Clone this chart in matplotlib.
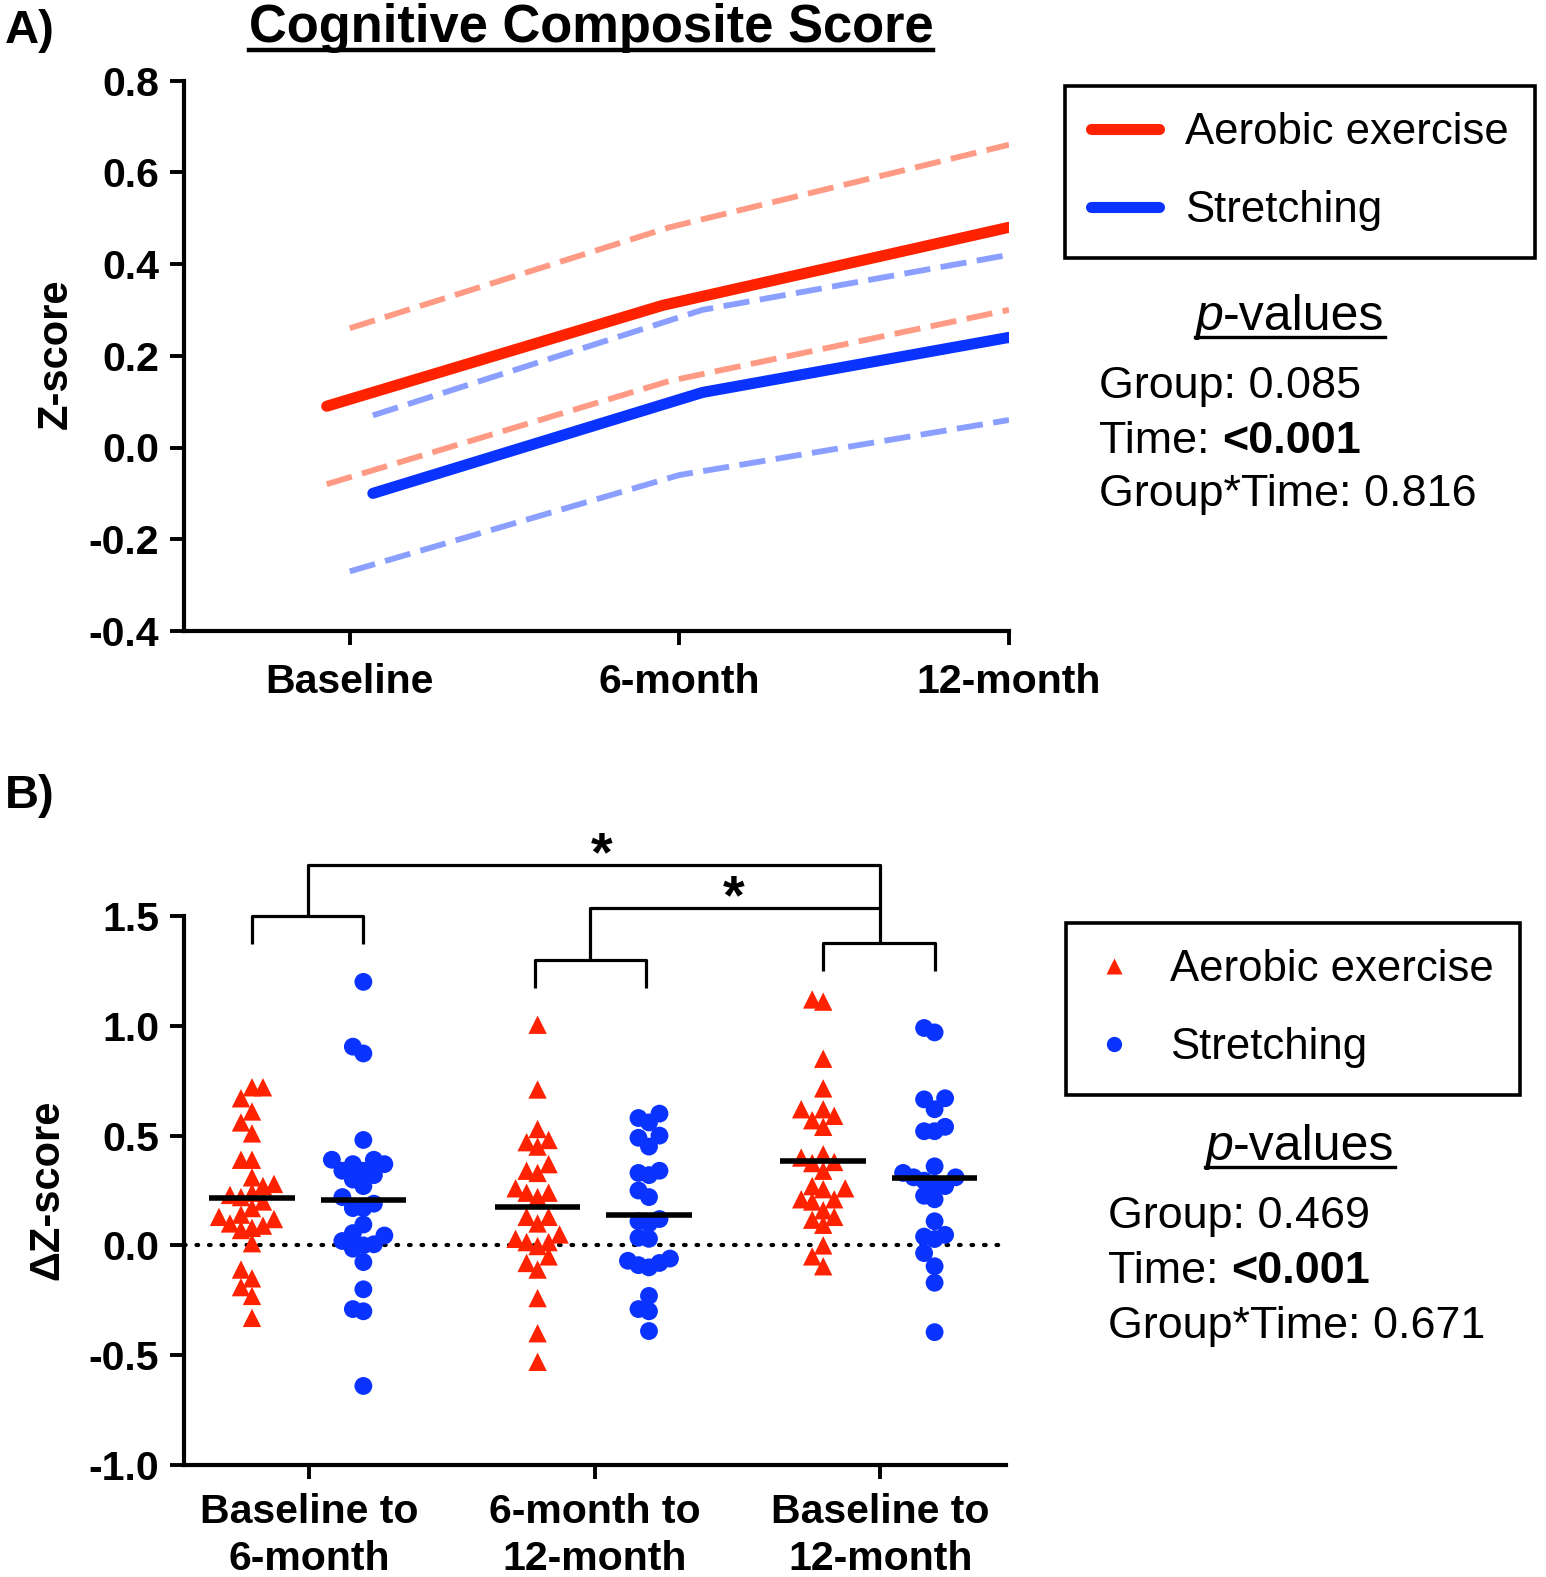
import numpy as np
import matplotlib
matplotlib.use("Agg")
import matplotlib.pyplot as plt
from matplotlib.lines import Line2D

plt.rcParams['font.family'] = ['Liberation Sans', 'DejaVu Sans']
plt.rcParams['axes.unicode_minus'] = False

RED = '#ff2200'
BLUE = '#0a33ff'
RED_CI = '#ff9b85'
BLUE_CI = '#8a9fff'

W, H = 1546, 1577

# ---- Panel A data: group means and 95% CI over time
timepoints = ['Baseline', '6-month', '12-month']
aer_mean = [0.09, 0.31, 0.48]
aer_lo = [-0.08, 0.145, 0.30]
aer_hi = [0.26, 0.48, 0.66]
str_mean = [-0.10, 0.12, 0.24]
str_lo = [-0.27, -0.06, 0.06]
str_hi = [0.07, 0.30, 0.42]

# ---- Panel B data: change scores per participant
intervals = ['Baseline to\n6-month', '6-month to\n12-month', 'Baseline to\n12-month']
aer_d1 = [0.72, 0.72, 0.67, 0.61, 0.56, 0.51, 0.39, 0.39, 0.31, 0.27, 0.28, 0.24,
          0.23, 0.22, 0.17, 0.20, 0.12, 0.08, 0.10, 0.09, 0.14, 0.13, 0.07, 0.01,
          -0.11, -0.15, -0.19, -0.23, -0.33]
str_d1 = [1.20, 0.905, 0.874, 0.48, 0.39, 0.39, 0.37, 0.37, 0.34, 0.34, 0.32, 0.30,
          0.27, 0.22, 0.19, 0.17, 0.17, 0.095, 0.056, 0.02, 0.045, 0.005, 0.0,
          -0.015, -0.076, -0.20, -0.29, -0.30, -0.64]
aer_d2 = [1.005, 0.71, 0.53, 0.45, 0.47, 0.48, 0.37, 0.33, 0.34, 0.24, 0.22, 0.26,
          0.24, 0.13, 0.10, 0.13, 0.05, 0.015, 0.015, -0.003, 0.03, -0.05, -0.08,
          -0.11, -0.24, -0.40, -0.53]
str_d2 = [0.58, 0.60, 0.56, 0.49, 0.50, 0.45, 0.32, 0.34, 0.33, 0.25, 0.22, 0.12,
          0.11, 0.10, 0.03, 0.035, -0.08, -0.09, -0.07, -0.06, -0.10, -0.23, -0.30,
          -0.29, -0.39]
aer_d3 = [1.11, 1.12, 0.85, 0.715, 0.59, 0.62, 0.62, 0.57, 0.54, 0.415, 0.40, 0.38,
          0.375, 0.34, 0.26, 0.256, 0.27, 0.21, 0.20, 0.21, 0.16, 0.13, 0.094,
          0.117, 0.0, -0.05, -0.095]
str_d3 = [0.99, 0.97, 0.67, 0.665, 0.62, 0.54, 0.52, 0.52, 0.36, 0.33, 0.28, 0.27,
          0.31, 0.295, 0.31, 0.226, 0.21, 0.11, 0.04, 0.048, 0.029, -0.035, -0.095,
          -0.17, -0.395]

aer_changes = [aer_d1, aer_d2, aer_d3]
str_changes = [str_d1, str_d2, str_d3]

fig = plt.figure(figsize=(W / 100, H / 100), dpi=100)


def fx(x):
    return x / W


def fy(y):
    return 1 - y / H


def style_axes(ax, pad):
    for s in ['top', 'right']:
        ax.spines[s].set_visible(False)
    for s in ['left', 'bottom']:
        ax.spines[s].set_linewidth(3.0)
    ax.tick_params(width=2.8, length=10, labelsize=29.5, pad=8)
    ax.tick_params(axis='x', pad=pad)
    for lab in ax.get_xticklabels() + ax.get_yticklabels():
        lab.set_fontweight('bold')


# ================= Panel A =================
axA = fig.add_axes([fx(184), fy(631), fx(1009 - 184), (631 - 80.5) / H])
t = np.arange(len(timepoints))
dash = (0, (4.5, 1.8))
# small horizontal dodge, like the original
axA.plot(t + [0.0, -0.03, 0], aer_hi, color=RED_CI, lw=4.2, ls=dash, zorder=2)
axA.plot(t + [-0.07, -0.03, 0], aer_lo, color=RED_CI, lw=4.2, ls=dash, zorder=2)
axA.plot(t + [0.07, 0.07, 0], str_hi, color=BLUE_CI, lw=4.2, ls=dash, zorder=2)
axA.plot(t + [0.0, 0.0, 0], str_lo, color=BLUE_CI, lw=4.2, ls=dash, zorder=2)
axA.plot(t + [-0.07, -0.05, 0], aer_mean, color=RED, lw=8, solid_capstyle='round', zorder=3)
axA.plot(t + [0.07, 0.07, 0], str_mean, color=BLUE, lw=8, solid_capstyle='round', zorder=3)
axA.set_xlim(-0.503, 2.0)
axA.set_ylim(-0.4, 0.8)
axA.set_xticks(t)
axA.set_xticklabels(timepoints)
axA.set_yticks(np.arange(-0.4, 0.81, 0.2))
axA.set_yticklabels([f'{v:.1f}' for v in np.arange(-0.4, 0.81, 0.2)])
style_axes(axA, 13)

# ================= Panel B =================
axB = fig.add_axes([fx(184), fy(1465), fx(1006 - 184), (1465 - 916) / H])
axB.set_xlim(-0.438, 2.44)
axB.set_ylim(-1.0, 1.5)
xs_px = (1006 - 184) / (2.44 + 0.438)
ys_px = (1465 - 916) / 2.5


def swarm(vals, col_px, gap_px):
    vals = np.asarray(vals)
    order = np.argsort(vals)
    cols = {}
    off = np.zeros(len(vals))
    for i in order:
        v = vals[i] * ys_px
        for k in (0, -1, 1, -2, 2, -3, 3, -4, 4, -5, 5, -6, 6):
            if all(abs(v - u) >= gap_px for u in cols.get(k, [])):
                cols.setdefault(k, []).append(v)
                off[i] = k * col_px / xs_px
                break
    return off


axB.axhline(0, color='black', lw=3, ls=(0, (0.4, 2.6)), dash_capstyle='round', zorder=1)
for i in range(len(intervals)):
    a = np.array(aer_changes[i])
    s = np.array(str_changes[i])
    axB.scatter(i - 0.2 + swarm(a, 11, 14), a, marker='^', s=175, color=RED,
                edgecolors='none', zorder=3, clip_on=False)
    axB.scatter(i + 0.19 + swarm(s, 10.5, 15), s, marker='o', s=165, color=BLUE,
                edgecolors='none', zorder=3, clip_on=False)
    axB.hlines(a.mean(), i - 0.2 - 0.15, i - 0.2 + 0.15, color='black', lw=4, zorder=4)
    axB.hlines(s.mean(), i + 0.19 - 0.15, i + 0.19 + 0.15, color='black', lw=4, zorder=4)

axB.set_xticks(range(len(intervals)))
axB.set_xticklabels(intervals, linespacing=1.3)
yt = np.arange(-1.0, 1.51, 0.5)
axB.set_yticks(yt)
axB.set_yticklabels([f'{v:.1f}' for v in yt])
style_axes(axB, 10)

# significance brackets
bk = dict(color='black', lw=2.3, clip_on=False, solid_capstyle='butt')
pair_top = [1.5, 1.30, 1.377]
pair_x = [(-0.2, 0.19), (0.79, 1.18), (1.80, 2.19)]
mids = []
for (x1, x2), top in zip(pair_x, pair_top):
    axB.plot([x1, x1, x2, x2], [top - 0.128, top, top, top - 0.128], **bk)
    mids.append((x1 + x2) / 2)
axB.plot([mids[0], mids[0], 2, 2], [pair_top[0], 1.732, 1.732, pair_top[2]], **bk)
axB.plot([mids[1], mids[1], 2], [pair_top[1], 1.536, 1.536], **bk)
axB.text(1.026, 1.77, '*', fontsize=40, fontweight='bold', ha='center', va='center')
axB.text(1.485, 1.575, '*', fontsize=40, fontweight='bold', ha='center', va='center')

# ================= labels and text =================
renderer = fig.canvas.get_renderer()


def text_width(tx):
    return tx.get_window_extent(renderer).width


def underline(tx, drop, lw=3):
    bb = tx.get_window_extent(renderer)
    x0, x1 = bb.x0 / W, bb.x1 / W
    y = tx.get_position()[1] - drop / H
    fig.add_artist(Line2D([x0, x1], [y, y], color='black', lw=lw))


fig.text(fx(5), fy(43), 'A)', fontsize=34, fontweight='bold', va='baseline')
fig.text(fx(5), fy(808), 'B)', fontsize=34, fontweight='bold', va='baseline')
title = fig.text(fx(591), fy(42), 'Cognitive Composite Score', fontsize=37.8,
                 fontweight='bold', ha='center', va='baseline')
underline(title, 8, lw=3.2)

fig.text(fx(56), fy(354), 'Z-score', fontsize=30, fontweight='bold', rotation=90,
         ha='center', va='center')
fig.text(fx(47), fy(1190), '\u0394Z-score', fontsize=30, fontweight='bold', rotation=90,
         ha='center', va='center')

# legends
leg_kw = dict(loc='upper left', bbox_transform=fig.transFigure, borderaxespad=0,
              fancybox=False, edgecolor='black', framealpha=1, fontsize=31.5,
              labelspacing=0.85, borderpad=0.6)
hA = [Line2D([], [], color=RED, lw=8, solid_capstyle='round'),
      Line2D([], [], color=BLUE, lw=8, solid_capstyle='round')]
legA = axA.legend(hA, ['Aerobic exercise', 'Stretching'], bbox_to_anchor=(fx(1065), fy(86)),
                  handlelength=1.55, handletextpad=0.6, **leg_kw)
legA.get_frame().set_linewidth(2.6)
hB = [Line2D([], [], marker='^', ls='none', color=RED, ms=11, mec='none'),
      Line2D([], [], marker='o', ls='none', color=BLUE, ms=11, mec='none')]
legB = axB.legend(hB, ['Aerobic exercise', 'Stretching'], bbox_to_anchor=(fx(1066), fy(923)),
                  handlelength=1.0, handletextpad=0.78, **leg_kw)
legB.get_frame().set_linewidth(2.6)


def pvalue_block(cx, y_head, x_left, y_lines, group_p, time_p, inter_p):
    p = fig.text(0, fy(y_head), 'p', fontsize=36, style='italic', va='baseline')
    rest = fig.text(0, fy(y_head), '-values', fontsize=36, va='baseline')
    wp, wr = text_width(p), text_width(rest)
    x0 = cx - (wp + wr) / 2
    p.set_x(x0 / W)
    rest.set_x((x0 + wp) / W)
    fig.add_artist(Line2D([x0 / W, (x0 + wp + wr) / W], [fy(y_head + 7)] * 2,
                          color='black', lw=2.4))
    fig.text(fx(x_left), fy(y_lines[0]), f'Group: {group_p}', fontsize=32.3, va='baseline')
    a = fig.text(fx(x_left), fy(y_lines[1]), 'Time: 0', fontsize=32.3, va='baseline')
    z = fig.text(0, 0, '0', fontsize=32.3)
    w = text_width(a) - text_width(z)
    a.set_text('Time:')
    z.remove()
    fig.text(fx(x_left + w), fy(y_lines[1]), time_p, fontsize=32.3, fontweight='bold',
             va='baseline')
    fig.text(fx(x_left), fy(y_lines[2]), f'Group*Time: {inter_p}', fontsize=32.3,
             va='baseline')


pvalue_block(1290, 330, 1099, [398, 453, 506], '0.085', '<0.001', '0.816')
pvalue_block(1300, 1160, 1108, [1228, 1283, 1338], '0.469', '<0.001', '0.671')

fig.savefig('out.png', dpi=100)
